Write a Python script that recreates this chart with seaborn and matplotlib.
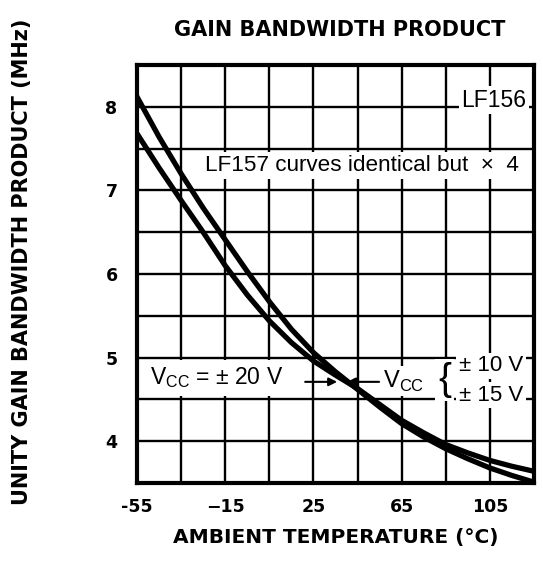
import numpy as np
import pandas as pd
import seaborn as sns
import matplotlib.pyplot as plt

# temperature grid (deg C) and read-off gain bandwidth product (MHz)
temps = [-55, -45, -35, -25, -15, -5, 5, 15, 25, 35, 45, 55, 65, 75, 85, 95, 105, 115, 125]
gbw_20v = [8.12, 7.64, 7.20, 6.79, 6.41, 6.03, 5.67, 5.34, 5.06, 4.83, 4.62, 4.41, 4.21,
           4.05, 3.91, 3.79, 3.68, 3.59, 3.51]
gbw_10_15v = [7.68, 7.27, 6.88, 6.50, 6.10, 5.75, 5.44, 5.18, 4.96, 4.79, 4.63, 4.44, 4.25,
              4.10, 3.96, 3.86, 3.77, 3.70, 3.64]

x_grid = [-55, -35, -15, 5, 25, 45, 65, 85, 105, 125]
x_labels = ['-55', '', '\u221215', '', '25', '', '65', '', '105', '']
y_grid = [3.5, 4, 4.5, 5, 5.5, 6, 6.5, 7, 7.5, 8, 8.5]
y_labels = ['', '4', '', '5', '', '6', '', '7', '', '8', '']

df = pd.DataFrame({
    'temp': temps * 2,
    'gbw': gbw_20v + gbw_10_15v,
    'vcc': ['20'] * len(temps) + ['10/15'] * len(temps),
})

sns.set_theme(style='white')
plt.rcParams['font.family'] = ['DejaVu Sans']
plt.rcParams['text.color'] = 'black'
plt.rcParams['xtick.color'] = 'black'
plt.rcParams['ytick.color'] = 'black'

fig = plt.figure(figsize=(5.43, 5.63), dpi=100)
ax = fig.add_axes([137 / 543, 1 - 483 / 563, 397 / 543, 418 / 563])

sns.lineplot(data=df, x='temp', y='gbw', hue='vcc', palette=['black', 'black'],
             linewidth=3.8, legend=False, ax=ax, zorder=5)

ax.set_xlim(-55, 125)
ax.set_ylim(3.5, 8.5)
ax.set_xticks(x_grid)
ax.set_xticklabels(x_labels, fontsize=12.5, fontweight='bold')
ax.set_yticks(y_grid)
ax.set_yticklabels(y_labels, fontsize=12.5, fontweight='bold')
ax.tick_params(length=0, pad=11)
ax.tick_params(axis='y', pad=14)
ax.set_xlabel('')
ax.set_ylabel('')
ax.grid(True, color='black', linewidth=1.7)
for s in ax.spines.values():
    s.set_visible(True)
    s.set_color('black')
    s.set_linewidth(3)

helv = 'Liberation Sans'
white = dict(facecolor='white', edgecolor='none', pad=2)

ax.text(121.5, 8.08, 'LF156', family=helv, fontsize=16.5, ha='right', va='center',
        bbox=white, zorder=6)
ax.text(-24, 7.30, 'LF157 curves identical but  \u00d7  4', family=helv, fontsize=16.2,
        ha='left', va='center', bbox=white, zorder=6)

ax.text(-49, 4.76, 'V$_{\\mathregular{CC}}$ = \u00b1 20 V',
        family=helv, fontsize=16.5, ha='left', va='center',
        bbox=dict(facecolor='white', edgecolor='none', pad=4), zorder=6)
ax.annotate('', xy=(37, 4.71), xytext=(20, 4.71),
            arrowprops=dict(arrowstyle='-|>', color='black', lw=1.5), zorder=7)
ax.annotate('', xy=(39, 4.71), xytext=(56, 4.71),
            arrowprops=dict(arrowstyle='-|>', color='black', lw=1.5), zorder=7)
ax.text(56.5, 4.72, 'V$_{\\mathregular{CC}}$', family=helv, fontsize=17,
        ha='left', va='center', bbox=white, zorder=6)
ax.text(84.5, 4.73, '{', family=helv, fontsize=28, ha='center', va='center',
        bbox=white, zorder=6)
ax.text(91, 4.90, '\u00b1 10 V', family=helv, fontsize=16, ha='left', va='center',
        bbox=white, zorder=6)
ax.text(91, 4.55, '\u00b1 15 V', family=helv, fontsize=16, ha='left', va='center',
        bbox=white, zorder=6)

fig.text(340 / 543, 1 - 30 / 563, 'GAIN BANDWIDTH PRODUCT', fontsize=15,
         fontweight='bold', ha='center', va='center')
fig.text(336 / 543, 1 - 537 / 563, 'AMBIENT TEMPERATURE (\u00b0C)', fontsize=14.5,
         fontweight='bold', ha='center', va='center')
fig.text(22 / 543, 1 - 262 / 563, 'UNITY GAIN BANDWIDTH PRODUCT (MHz)', fontsize=15,
         fontweight='bold', ha='center', va='center', rotation=90)

fig.savefig('out.png', dpi=100)
